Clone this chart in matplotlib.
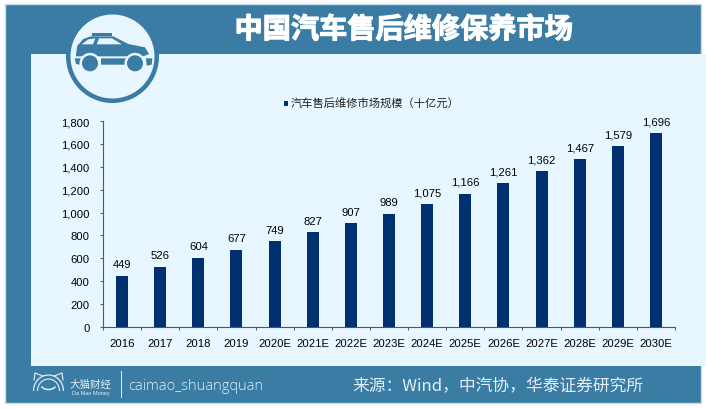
import matplotlib
matplotlib.use('Agg')
import matplotlib.pyplot as plt
import matplotlib.patheffects as pe
from matplotlib.patches import Rectangle, Circle, Polygon, Arc
from matplotlib.ticker import FixedLocator, NullFormatter, FuncFormatter

years = ['2016', '2017', '2018', '2019', '2020E', '2021E', '2022E', '2023E',
         '2024E', '2025E', '2026E', '2027E', '2028E', '2029E', '2030E']
market_size = [449, 526, 604, 677, 749, 827, 907, 989, 1075, 1166, 1261, 1362, 1467, 1579, 1696]
series_name = '汽车售后维修市场规模（十亿元）'
title = '中国汽车售后维修保养市场'
source = '来源：Wind，中汽协，华泰证券研究所'
account = 'caimao_shuangquan'

W, H = 706, 410
BLUE = '#3a7ca3'
LIGHT = '#e8f7ff'
NAVY = '#00306f'
CJK = ['Noto Sans CJK SC', 'DejaVu Sans']

fig = plt.figure(figsize=(W / 100, H / 100), dpi=100, facecolor='white')

# background layer, in image pixels
bg = fig.add_axes([0, 0, 1, 1], zorder=0)
bg.set_xlim(0, W)
bg.set_ylim(H, 0)
bg.axis('off')
bg.add_patch(Rectangle((5, 5), 696, 399, fc=BLUE, ec='#c4deec', lw=1))
bg.add_patch(Rectangle((31, 55), W - 31, 312, fc=LIGHT, ec='none'))

# round car badge
bg.add_patch(Circle((112.5, 57.5), 46.5, fc=BLUE, ec='none'))
bg.add_patch(Circle((112.5, 57.5), 42, fc=LIGHT, ec='none'))


def px(points):
    # points were measured on a 3x crop
    return [(x / 3, y / 3) for x, y in points]


bg.add_patch(Polygon(px([(228, 165), (232, 140), (250, 120), (272, 112), (340, 112), (385, 135),
                         (435, 145), (447, 165), (430, 172), (228, 172)]), fc=BLUE, ec='none'))
bg.add_patch(Polygon(px([(275, 103), (335, 103), (335, 111), (275, 111)]), fc=BLUE, ec='none'))
bg.add_patch(Polygon(px([(245, 136), (265, 121), (286, 118), (279, 136)]), fc=LIGHT, ec='none'))
bg.add_patch(Polygon(px([(290, 136), (297, 118), (336, 118), (366, 136)]), fc=LIGHT, ec='none'))
bg.add_patch(Polygon(px([(224, 178), (245, 178), (240, 197), (228, 195)]), fc=BLUE, ec='none'))
bg.add_patch(Polygon(px([(303, 178), (378, 178), (375, 197), (303, 197)]), fc=BLUE, ec='none'))
bg.add_patch(Polygon(px([(438, 178), (457, 178), (455, 197), (440, 200)]), fc=BLUE, ec='none'))
for cx in (270, 405):
    bg.add_patch(Circle((cx / 3, 193 / 3), 10.5, fc=LIGHT, ec='none'))
    bg.add_patch(Circle((cx / 3, 193 / 3), 8, fc=BLUE, ec='none'))

title_txt = bg.text(404, 31, title, color='white', fontsize=20.3, fontweight='bold', family=CJK,
                    ha='center', va='center')
title_txt.set_path_effects([pe.withStroke(linewidth=0.8, foreground='white')])

# footer logo
LOGO = '#e4eff5'
bg.add_patch(Arc((48.5, 392), 30, 32, theta1=180, theta2=360, ec=LOGO, lw=0.9))
bg.add_patch(Arc((48.5, 392), 22, 24, theta1=180, theta2=360, ec=LOGO, lw=0.8))
bg.add_patch(Arc((48.5, 385), 16, 11, theta1=20, theta2=160, ec=LOGO, lw=1.1))
bg.plot([34, 35, 43], [381, 374, 377], color=LOGO, lw=0.8)
bg.plot([63, 62, 54], [381, 374, 377], color=LOGO, lw=0.8)
bg.text(90.5, 385, '大猫财经', color=LOGO, fontsize=7.6, family=CJK, ha='center', va='center')
bg.text(90.5, 394, 'Da Mao Money', color=LOGO, fontsize=4, family='Liberation Sans',
        ha='center', va='center')
bg.plot([121, 121], [372, 398], color=LOGO, lw=0.7)
bg.text(128, 387, account, color=LOGO, fontsize=10.45, family='Open Sans', fontweight='light',
        ha='left', va='center')
bg.text(352, 387, source, color=LOGO, fontsize=12.1, family=CJK, ha='left', va='center')

# bar chart
ax = fig.add_axes([103 / W, 1 - 328 / H, 572 / W, 206 / H], zorder=1)
ax.patch.set_alpha(0)
positions = list(range(len(years)))
bars = ax.bar(positions, market_size, width=0.315, color=NAVY)
ax.bar_label(bars, labels=[f'{v:,}' for v in market_size], padding=4.8, fontsize=8.1,
             family='Liberation Sans', color='black')
ax.set_xlim(-0.5, len(years) - 0.5)
ax.set_ylim(0, 1800)
ax.set_yticks(range(0, 1801, 200))
ax.yaxis.set_major_formatter(FuncFormatter(lambda v, _: f'{int(v):,}'))
ax.set_xticks(positions)
ax.set_xticklabels(years)
ax.xaxis.set_minor_locator(FixedLocator([p - 0.5 for p in positions] + [len(years) - 0.5]))
ax.xaxis.set_minor_formatter(NullFormatter())
ax.tick_params(axis='x', which='major', length=0, pad=8, labelsize=8.1)
ax.tick_params(axis='x', which='minor', length=2.5, width=0.7, color='#555555')
ax.tick_params(axis='y', length=2.5, width=0.7, color='#555555', pad=7, labelsize=8.1)
for lab in ax.get_xticklabels() + ax.get_yticklabels():
    lab.set_family('Liberation Sans')
for side in ('top', 'right'):
    ax.spines[side].set_visible(False)
for side in ('left', 'bottom'):
    ax.spines[side].set_color('#555555')
    ax.spines[side].set_linewidth(0.8)

# legend sits above the plot, drawn by hand to get the wide CJK spacing
bg.add_patch(Rectangle((283.5, 102), 4, 4.5, fc=NAVY, ec='none'))
bg.text(290.5, 104.5, series_name, color='#222222', fontsize=8.1, family=CJK, ha='left', va='center')

fig.savefig('out.png', dpi=100)
